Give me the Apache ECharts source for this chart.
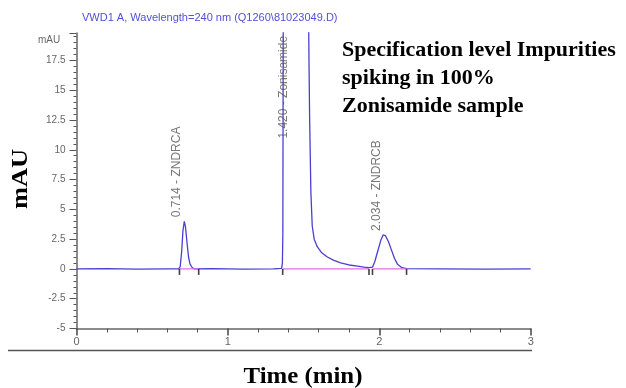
<!DOCTYPE html>
<html>
<head>
<meta charset="utf-8">
<script src="https://cdn.jsdelivr.net/npm/echarts@6/dist/echarts.min.js"></script>
<style>html,body{margin:0;padding:0;background:#fff}#c{width:626px;height:388px}</style>
</head>
<body>
<div id="c"></div>
<script>
// ---- data ----
const times  = [0, 0.2, 0.4, 0.6, 0.675, 0.685, 0.695, 0.703, 0.712, 0.72, 0.73, 0.74, 0.75, 0.765, 0.78, 0.9, 1.1, 1.3, 1.355, 1.36, 1.363, 1.366, 1.38, 1.42, 1.50, 1.530, 1.536, 1.540, 1.548, 1.557, 1.570, 1.591, 1.62, 1.657, 1.70, 1.745, 1.80, 1.856, 1.90, 1.932, 1.955, 1.97, 1.99, 2.01, 2.025, 2.04, 2.06, 2.08, 2.10, 2.12, 2.15, 2.18, 2.4, 2.7, 3.0];
const signal = [0, 0.02, -0.02, 0, 0, 0.2, 1.5, 3.2, 4.0, 3.5, 2.2, 1.0, 0.4, 0.1, 0, 0.02, -0.02, 0, 0.05, 0.5, 3, 25, 45, 60, 45, 25, 17, 12.5, 6.5, 3.6, 2.5, 1.85, 1.35, 1.0, 0.72, 0.5, 0.33, 0.24, 0.15, 0.1, 0.15, 0.6, 1.5, 2.4, 2.85, 2.8, 2.3, 1.6, 0.9, 0.4, 0.1, 0.02, 0, -0.02, 0];
const peakNames = ['0.714 - ZNDRCA', '1.420 - Zonisamide', '2.034 - ZNDRCB'];
const peakTimes = [0.714, 1.420, 2.034];
const peakHeights = [4.0, 10.6, 2.85];
const baselineStarts = [0.68, 1.362, 1.955];
const baselineEnds = [0.807, 1.932, 2.18];
const xTicks = [0, 1, 2, 3];
const yTicks = [-5, -2.5, 0, 2.5, 5, 7.5, 10, 12.5, 15, 17.5];
const titleText = 'VWD1 A, Wavelength=240 nm (Q1260\\81023049.D)';
const noteLines = ['Specification level Impurities', 'spiking in 100%', 'Zonisamide sample'];

const sig = times.map((t, i) => [t, signal[i]]);
const base = [];
baselineStarts.forEach((s, i) => { base.push([s, 0], [baselineEnds[i], 0], '-'); });
const markers = [];
baselineStarts.forEach((s, i) => { markers.push([s, 0], [baselineEnds[i], 0]); });
const labelPts = peakTimes.map((t, i) => ({ value: [t, peakHeights[i]], name: peakNames[i] }));

const boldSerif = 'bold 23px "Liberation Serif", "Times New Roman"';
const noteFont = 'bold 22px "Liberation Serif", "Times New Roman"';
const chart = echarts.init(document.getElementById('c'), null, { renderer: 'canvas' });
chart.setOption({
  animation: false,
  backgroundColor: '#fff',
  grid: { left: 76.5, right: 95.3, top: 33, bottom: 59.5, containLabel: false },
  xAxis: {
    type: 'value', min: 0, max: 3, interval: 1,
    axisLine: { show: true, onZero: false, lineStyle: { color: '#666', width: 1.5 } },
    axisTick: { show: true, length: 7, lineStyle: { color: '#444', width: 1.5 } },
    minorTick: { show: true, splitNumber: 5, length: 4, lineStyle: { color: '#555', width: 1 } },
    axisLabel: { show: true, margin: 8, color: '#666', fontFamily: 'Liberation Sans, Arial', fontSize: 11,
      formatter: v => xTicks.includes(v) ? String(v) : '' },
    splitLine: { show: false }
  },
  yAxis: {
    type: 'value', min: -5, max: 19.8, interval: 2.5,
    axisLine: { show: true, onZero: false, lineStyle: { color: '#666', width: 1.5 } },
    axisTick: { show: true, length: 7, lineStyle: { color: '#555', width: 1 } },
    minorTick: { show: true, splitNumber: 5, length: 3, lineStyle: { color: '#555', width: 1 } },
    axisLabel: { show: true, margin: 11, color: '#666', fontFamily: 'Liberation Sans, Arial', fontSize: 10,
      formatter: v => yTicks.includes(v) ? String(v) : '' },
    splitLine: { show: false }
  },
  series: [
    {
      type: 'line', data: sig, symbol: 'none', clip: true,
      lineStyle: { color: '#4a3fd0', width: 1.3 }, z: 3
    },
    {
      type: 'line', data: base, symbol: 'none', connectNulls: false,
      lineStyle: { color: '#e070e0', width: 1.3 }, z: 4
    },
    {
      type: 'scatter', data: markers, symbol: 'rect', symbolSize: [1.6, 6], symbolOffset: [0, 3],
      itemStyle: { color: '#111' }, z: 5, silent: true
    },
    {
      type: 'scatter', data: labelPts, symbolSize: 0, z: 6, silent: true,
      label: {
        show: true, position: 'top', distance: 4, rotate: 90, offset: [0, -8],
        align: 'left', verticalAlign: 'middle',
        formatter: p => p.name, color: '#555', fontFamily: 'Liberation Sans, Arial', fontSize: 12
      }
    }
  ],
  graphic: [
    { type: 'text', left: 82, top: 12, style: { text: titleText, fill: '#5050d8', font: '11px "Liberation Sans", Arial' } },
    { type: 'text', left: 38, top: 35, style: { text: 'mAU', fill: '#666', font: '10px "Liberation Sans", Arial' } },
    { type: 'text', x: 21, y: 179, rotation: Math.PI / 2, scaleX: 1.15, style: { text: 'mAU', fill: '#000', font: boldSerif, align: 'center', verticalAlign: 'middle' } },
    { type: 'text', x: 303, y: 377, scaleX: 1.08, style: { text: 'Time (min)', fill: '#000', font: boldSerif, align: 'center', verticalAlign: 'middle' } },
    { type: 'text', x: 342, y: 50, style: { text: noteLines[0], fill: '#000', font: noteFont, verticalAlign: 'middle' } },
    { type: 'text', x: 342, y: 78, style: { text: noteLines[1], fill: '#000', font: noteFont, verticalAlign: 'middle' } },
    { type: 'text', x: 342, y: 106, style: { text: noteLines[2], fill: '#000', font: noteFont, verticalAlign: 'middle' } },
    { type: 'line', shape: { x1: 8, y1: 350.5, x2: 532, y2: 350.5 }, style: { stroke: '#555', lineWidth: 1.5 } }
  ]
});
</script>
</body>
</html>
